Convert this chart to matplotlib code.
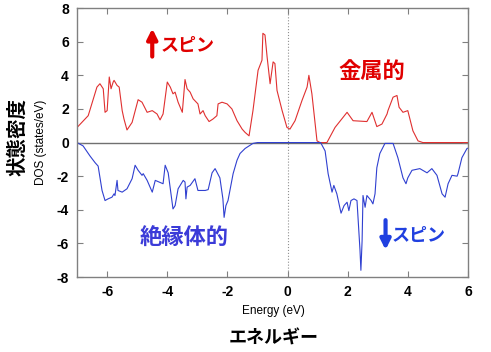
import numpy as np
import matplotlib.pyplot as plt

# spin up DOS (red)
up_e = [-7.0, -6.63, -6.34, -6.24, -6.13, -6.07, -6.0, -5.93, -5.87, -5.8, -5.77, -5.67, -5.6,
        -5.5, -5.44, -5.34, -5.17, -4.97, -4.84, -4.67, -4.5, -4.34, -4.24, -4.14, -4.0, -3.9,
        -3.81, -3.74, -3.64, -3.5, -3.41, -3.34, -3.24, -3.14, -2.98, -2.91, -2.81, -2.74, -2.61,
        -2.48, -2.35, -2.31, -2.18, -2.01, -1.85, -1.68, -1.51, -1.41, -1.28, -1.15, -0.98, -0.85,
        -0.82, -0.75, -0.68, -0.58, -0.48, -0.42, -0.35, -0.18, -0.02, 0.08, 0.25, 0.48, 0.65,
        0.71, 0.81, 0.98, 1.08, 1.31, 1.58, 1.98, 2.18, 2.64, 2.81, 2.97, 3.14, 3.31, 3.34, 3.51,
        3.64, 3.71, 3.84, 4.0, 4.17, 4.34, 4.5, 6.0]
up_dos = [0.9, 1.6, 3.3, 3.5, 3.2, 1.8, 1.9, 3.9, 3.2, 3.6, 3.7, 3.4, 3.3,
          1.9, 1.4, 0.75, 1.2, 2.55, 2.4, 1.8, 1.9, 1.7, 1.35, 1.7, 3.6, 3.3,
          2.9, 3.0, 2.4, 1.8, 3.75, 3.2, 3.0, 2.6, 2.3, 1.7, 1.9, 1.6, 1.25,
          1.4, 1.6, 2.3, 2.4, 2.3, 2.0, 1.3, 0.8, 0.6, 0.4, 1.9, 4.3, 4.9,
          6.5, 6.4, 5.1, 3.5, 4.8, 4.7, 3.1, 1.9, 0.9, 0.8, 1.3, 2.5, 3.3,
          4.0, 2.9, 0.1, 0.0, 0.0, 0.9, 1.8, 1.3, 1.25, 1.8, 0.95, 1.1, 1.7, 1.9, 2.7,
          2.8, 2.1, 1.8, 1.9, 0.7, 0.1, 0.0, 0.0]

# spin down DOS (blue)
dn_e = [-7.0, -6.8, -6.57, -6.4, -6.3, -6.17, -6.07, -5.97, -5.84, -5.77, -5.74, -5.67, -5.64,
        -5.5, -5.34, -5.17, -5.07, -4.97, -4.84, -4.8, -4.67, -4.5, -4.4, -4.27, -4.14, -4.07,
        -3.97, -3.81, -3.74, -3.64, -3.47, -3.41, -3.38, -3.34, -3.24, -3.08, -2.98, -2.74, -2.64,
        -2.51, -2.41, -2.25, -2.15, -2.11, -2.05, -1.98, -1.81, -1.68, -1.58, -1.41, -1.15, -1.0,
        1.1, 1.25, 1.35, 1.48, 1.54, 1.64, 1.78, 1.88, 1.98, 2.04, 2.11, 2.21, 2.31, 2.41, 2.44,
        2.48, 2.51, 2.58, 2.64, 2.78, 2.84, 2.91, 2.97, 3.07, 3.24, 3.51, 3.67, 3.84, 3.94, 4.0,
        4.14, 4.4, 4.64, 4.8, 4.97, 5.14, 5.24, 5.34, 5.47, 5.64, 5.67, 5.8, 5.97, 6.07]
dn_dos = [0.0, -0.2, -0.8, -1.2, -1.4, -2.85, -3.45, -3.35, -3.25, -3.05, -3.15, -2.25, -2.85,
          -2.95, -2.75, -2.15, -1.35, -1.65, -1.95, -1.85, -2.25, -2.95, -2.25, -2.35, -2.45, -1.35,
          -1.8, -3.95, -3.75, -2.75, -2.25, -2.35, -3.35, -2.65, -2.55, -2.15, -2.85, -2.85, -2.8,
          -1.8, -1.55, -2.1, -3.35, -4.45, -3.75, -3.45, -1.85, -1.05, -0.65, -0.35, -0.05, 0.0,
          0.0, -0.5, -1.85, -2.95, -2.55, -3.05, -4.2, -3.75, -3.55, -4.05, -3.45, -3.35, -3.45, -6.4, -7.6,
          -5.85, -3.15, -3.85, -3.15, -3.45, -3.65, -3.05, -1.5, -0.65, -0.05, -0.05, -0.9, -2.1, -2.45, -2.1,
          -1.65, -1.55, -1.8, -1.55, -1.95, -3.05, -3.25, -2.45, -1.95, -2.0, -1.85, -0.9, -0.35, -0.3]

xticks = [-6, -4, -2, 0, 2, 4, 6]
yticks = [-8, -6, -4, -2, 0, 2, 4, 6, 8]

jp = ['Noto Sans CJK JP', 'DejaVu Sans']
plt.rcParams['font.family'] = ['Liberation Sans', 'DejaVu Sans']
plt.rcParams['axes.unicode_minus'] = False

fig = plt.figure(figsize=(4.91, 3.52), dpi=100)
ax = fig.add_axes([0.157, 0.213, 0.796, 0.764])

ax.axhline(0, color='#707070', lw=1.0, zorder=1)
ax.axvline(0, color='#909090', lw=0.8, ls=':', zorder=1)
ax.plot(up_e, up_dos, color='#e03030', lw=0.8, zorder=2)
ax.plot(dn_e, dn_dos, color='#3040d0', lw=0.8, zorder=2)

ax.set_xlim(-7, 6)
ax.set_ylim(-8, 8)
ax.set_xticks(xticks)
ax.set_yticks(yticks)
ax.tick_params(direction='in', length=4, width=0.8, color='#808080', top=True, right=True,
               labelsize=10, pad=6)
for lab in ax.get_xticklabels() + ax.get_yticklabels():
    lab.set_fontweight('bold')
for s in ax.spines.values():
    s.set_color('#808080')
    s.set_linewidth(1.0)

# annotations
ax.annotate('', xy=(-4.5, 6.95), xytext=(-4.5, 4.95),
            arrowprops=dict(arrowstyle='-|>,head_width=0.3,head_length=0.6', color='#e00000', lw=3))
ax.text(-3.33, 5.75, 'スピン', color='#e00000', fontsize=13, fontweight='bold', family=jp,
        ha='center', va='center')
ax.text(2.82, 4.2, '金属的', color='#e00000', fontsize=16, fontweight='bold', family=jp,
        ha='center', va='center')
ax.text(-3.44, -5.7, '絶縁体的', color='#3b3bd8', fontsize=16, fontweight='bold', family=jp,
        ha='center', va='center')
ax.annotate('', xy=(3.26, -6.55), xytext=(3.26, -4.45),
            arrowprops=dict(arrowstyle='-|>,head_width=0.3,head_length=0.6', color='#2040e0', lw=3))
ax.text(4.37, -5.55, 'スピン', color='#2040e0', fontsize=13, fontweight='bold', family=jp,
        ha='center', va='center')

# axis labels placed in figure coords
fig.text(18 / 491, 1 - 137 / 352, '状態密度', rotation=90, fontsize=14, fontweight='bold',
         family=jp, ha='center', va='center')
fig.text(41 / 491, 1 - 142 / 352, 'DOS (states/eV)', rotation=90, fontsize=8.5,
         ha='center', va='center')
fig.text(273 / 491, 1 - 311 / 352, 'Energy (eV)', fontsize=8.5, ha='center', va='center')
fig.text(274 / 491, 1 - 338 / 352, 'エネルギー', fontsize=13, fontweight='bold', family=jp,
         ha='center', va='center')

fig.savefig('out.png', dpi=100)
